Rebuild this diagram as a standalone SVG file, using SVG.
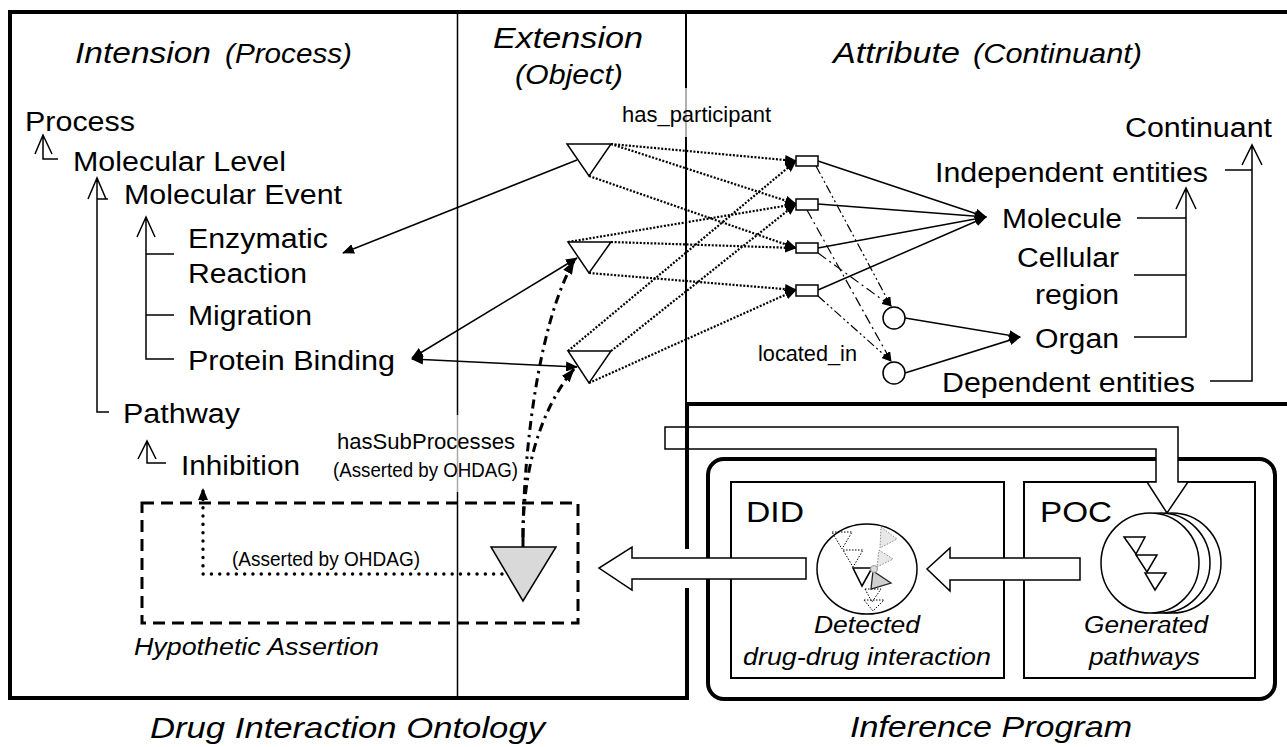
<svg xmlns="http://www.w3.org/2000/svg" width="1287" height="747" viewBox="0 0 1287 747">
<defs>
<style>
text{font-family:"Liberation Sans",Arial,Helvetica,sans-serif;fill:#000}
.lb{font-size:27px}
.tt{font-size:30px;font-style:italic}
.tp{font-size:27px;font-style:italic}
.sm{font-size:22px}
.as{font-size:21px}
.it{font-size:23px;font-style:italic}
.big{font-size:30px}
.frm{fill:none;stroke:#000;stroke-width:4}
.tree{fill:none;stroke:#000;stroke-width:1.5}
.sol{fill:none;stroke:#000;stroke-width:1.5}
.dot{fill:none;stroke:#000;stroke-width:2.2;stroke-dasharray:2 1.6}
.dd1{fill:none;stroke:#000;stroke-width:1.2;stroke-dasharray:9 3 2 3 2 3}
.dd2{fill:none;stroke:#000;stroke-width:1.2;stroke-dasharray:10 4 2 4}
.hd{fill:none;stroke:#000;stroke-width:3;stroke-dasharray:9 5 2.5 5}
.rd{fill:none;stroke:#000;stroke-width:3.4;stroke-linecap:round;stroke-dasharray:0.1 8.2}
.shape{fill:#fff;stroke:#000;stroke-width:1.5}
.hollow{fill:#fff;stroke:#000;stroke-width:1.5}
.box{fill:#fff;stroke:#000;stroke-width:2}
.dtri{fill:none;stroke:#000;stroke-width:1;stroke-dasharray:1.5 1.5}
.gtri{fill:#e8e8e8;stroke:#888;stroke-width:1;stroke-dasharray:1.5 1.5}
</style>
<marker id="a" viewBox="0 0 12 10" refX="11" refY="5" markerWidth="12" markerHeight="10" markerUnits="userSpaceOnUse" orient="auto-start-reverse"><path d="M0,0L12,5L0,10z" fill="#000"/></marker>
<marker id="as" viewBox="0 0 10 8" refX="9" refY="4" markerWidth="10" markerHeight="8" markerUnits="userSpaceOnUse" orient="auto"><path d="M0,0L10,4L0,8z" fill="#000"/></marker>
<marker id="ab" viewBox="0 0 14 10" refX="13" refY="5" markerWidth="14" markerHeight="10" markerUnits="userSpaceOnUse" orient="auto"><path d="M0,0L14,5L0,10z" fill="#000"/></marker>
</defs>
<rect width="1287" height="747" fill="#fff"/>

<g id="frames">
<line class="frm" x1="8" y1="12" x2="1287" y2="12"/>
<line class="frm" x1="10" y1="10" x2="10" y2="700"/>
<line class="frm" x1="8" y1="698" x2="689" y2="698"/>
<line x1="686" y1="12" x2="686" y2="88" stroke="#000" stroke-width="2"/>
<line x1="686" y1="88" x2="686" y2="137" stroke="#b0b0b0" stroke-width="2"/>
<line x1="686" y1="137" x2="686" y2="404" stroke="#000" stroke-width="2"/>
<line class="frm" x1="685" y1="404" x2="1287" y2="404"/>
<line x1="457.5" y1="12" x2="457.5" y2="415" stroke="#000" stroke-width="1.5"/>
<line x1="457.5" y1="415" x2="457.5" y2="492" stroke="#a8a8a8" stroke-width="1.5"/>
<line x1="457.5" y1="492" x2="457.5" y2="698" stroke="#000" stroke-width="1.5"/>
</g>

<g id="titles">
<text class="tt" x="75" y="63" textLength="136" lengthAdjust="spacingAndGlyphs">Intension</text>
<text class="tp" x="225" y="63" textLength="127" lengthAdjust="spacingAndGlyphs">(Process)</text>
<text class="tt" x="493" y="48" textLength="150" lengthAdjust="spacingAndGlyphs">Extension</text>
<text class="tp" x="515" y="84" textLength="108" lengthAdjust="spacingAndGlyphs">(Object)</text>
<text class="tt" x="833" y="63" textLength="127" lengthAdjust="spacingAndGlyphs">Attribute</text>
<text class="tp" x="973" y="63" textLength="169" lengthAdjust="spacingAndGlyphs">(Continuant)</text>
<text class="tt" x="150" y="738" textLength="395" lengthAdjust="spacingAndGlyphs">Drug Interaction Ontology</text>
<text class="tt" x="850" y="737" textLength="282" lengthAdjust="spacingAndGlyphs">Inference Program</text>
</g>

<g id="hypothetic-assertion">
<rect x="142" y="503" width="436" height="120" fill="none" stroke="#000" stroke-width="3" stroke-dasharray="12 7"/>
<text class="it" x="134" y="655" textLength="245" lengthAdjust="spacingAndGlyphs">Hypothetic Assertion</text>
</g>

<g id="inference-program">
<rect x="708" y="459" width="567" height="240" rx="16" ry="16" fill="none" stroke="#000" stroke-width="4"/>
</g>
<g id="did">
<rect class="box" x="731" y="482" width="273" height="196"/>
<text class="big" x="746" y="522" textLength="58" lengthAdjust="spacingAndGlyphs">DID</text>
<ellipse cx="867" cy="569" rx="50" ry="45" fill="#fff" stroke="#000" stroke-width="1.5"/>
<polygon class="dtri" points="832,532 852,532 842,549"/>
<polygon class="dtri" points="843,550 863,550 853,567"/>
<polygon class="gtri" points="881,527 897,539 880,548"/>
<polygon class="gtri" points="879,550 893,559 877,567"/>
<polygon class="dtri" points="865,589 881,589 872,602"/>
<polygon class="dtri" points="864,600 884,600 873,611"/>
<polygon points="853,568 872,568 862,586" fill="#fff" stroke="#000" stroke-width="1.6"/>
<polygon points="873,571 891,583 871,589" fill="#cfcfcf" stroke="#222" stroke-width="1.3"/>
<circle cx="874" cy="569" r="3.5" fill="#ddd" stroke="#999" stroke-width="1"/>
<text class="it" x="814" y="633" textLength="106" lengthAdjust="spacingAndGlyphs">Detected</text>
<text class="it" x="743" y="665" textLength="248" lengthAdjust="spacingAndGlyphs">drug-drug interaction</text>
</g>
<g id="poc">
<rect class="box" x="1024" y="482" width="231" height="196"/>
<text class="big" x="1040" y="522" textLength="72" lengthAdjust="spacingAndGlyphs">POC</text>
<ellipse cx="1172" cy="563" rx="49" ry="50" fill="#fff" stroke="#000" stroke-width="1.5"/>
<ellipse cx="1161" cy="563" rx="49" ry="50" fill="#fff" stroke="#000" stroke-width="1.5"/>
<ellipse cx="1150" cy="563" rx="49" ry="50" fill="#fff" stroke="#000" stroke-width="1.5"/>
<polygon class="shape" points="1124,537 1145,537 1136,554"/>
<polygon class="shape" points="1136,555 1157,555 1147,572"/>
<polygon class="shape" points="1145,573 1166,573 1155,590"/>
<text class="it" x="1084" y="633" textLength="124" lengthAdjust="spacingAndGlyphs">Generated</text>
<text class="it" x="1089" y="665" textLength="111" lengthAdjust="spacingAndGlyphs">pathways</text>
</g>

<g id="intension-nodes">
<g id="n-process"><text class="lb" x="25" y="131" textLength="110" lengthAdjust="spacingAndGlyphs">Process</text></g>
<g id="n-molecular-level"><text class="lb" x="73" y="171" textLength="213" lengthAdjust="spacingAndGlyphs">Molecular Level</text></g>
<g id="n-molecular-event"><text class="lb" x="124" y="204" textLength="218" lengthAdjust="spacingAndGlyphs">Molecular Event</text></g>
<g id="n-enzymatic"><text class="lb" x="188" y="248" textLength="140" lengthAdjust="spacingAndGlyphs">Enzymatic</text><text class="lb" x="188" y="283" textLength="119" lengthAdjust="spacingAndGlyphs">Reaction</text></g>
<g id="n-migration"><text class="lb" x="188" y="325" textLength="124" lengthAdjust="spacingAndGlyphs">Migration</text></g>
<g id="n-protein-binding"><text class="lb" x="188" y="370" textLength="207" lengthAdjust="spacingAndGlyphs">Protein Binding</text></g>
<g id="n-pathway"><text class="lb" x="123" y="423" textLength="117" lengthAdjust="spacingAndGlyphs">Pathway</text></g>
<g id="n-inhibition"><text class="lb" x="181" y="475" textLength="119" lengthAdjust="spacingAndGlyphs">Inhibition</text></g>
</g>

<g id="attribute-nodes">
<g id="n-continuant"><text class="lb" x="1125" y="137" textLength="147" lengthAdjust="spacingAndGlyphs">Continuant</text></g>
<g id="n-independent"><text class="lb" x="935" y="182" textLength="273" lengthAdjust="spacingAndGlyphs">Independent entities</text></g>
<g id="n-molecule"><text class="lb" x="1002" y="228" textLength="120" lengthAdjust="spacingAndGlyphs">Molecule</text></g>
<g id="n-cellular"><text class="lb" x="1017" y="267" textLength="102" lengthAdjust="spacingAndGlyphs">Cellular</text><text class="lb" x="1035" y="304" textLength="84" lengthAdjust="spacingAndGlyphs">region</text></g>
<g id="n-organ"><text class="lb" x="1035" y="348" textLength="84" lengthAdjust="spacingAndGlyphs">Organ</text></g>
<g id="n-dependent"><text class="lb" x="942" y="392" textLength="253" lengthAdjust="spacingAndGlyphs">Dependent entities</text></g>
</g>

<g id="connectors">
<path class="tree" d="M43,135V159H58M35,154L43,135L52,154"/>
<path class="tree" d="M97,178V412H109M97,199H108M88,199L97,178L106,199"/>
<path class="tree" d="M146,217V359H174M146,254H174M146,315H174M137,237L146,217L155,237"/>
<path class="tree" d="M147,441V463H166M138,459L147,441L156,459"/>
<path class="tree" d="M1252,145V381H1210M1225,170H1252M1242,165L1252,145L1262,165"/>
<path class="tree" d="M1186,188V337H1134M1137,218H1186M1134,275H1186M1176,209L1186,188L1196,209"/>
<path class="dot" marker-end="url(#a)" d="M611,144L796,161"/>
<path class="dot" marker-end="url(#a)" d="M611,144L796,204"/>
<path class="dot" marker-end="url(#a)" d="M589,176L796,248"/>
<path class="dot" marker-end="url(#a)" d="M568,242L796,204"/>
<path class="dot" marker-end="url(#a)" d="M611,242L796,248"/>
<path class="dot" marker-end="url(#a)" d="M589,273L796,290"/>
<path class="dot" marker-end="url(#a)" d="M568,351L796,161"/>
<path class="dot" marker-end="url(#a)" d="M611,351L796,204"/>
<path class="dot" marker-end="url(#a)" d="M589,383L796,290"/>
<path class="sol" marker-end="url(#a)" d="M818,161L986,217"/>
<path class="sol" marker-end="url(#a)" d="M818,204L986,217"/>
<path class="sol" marker-end="url(#a)" d="M818,248L986,217"/>
<path class="sol" marker-end="url(#a)" d="M818,290L986,217"/>
<path class="dd1" marker-end="url(#as)" d="M816,166L891,306"/>
<path class="dd2" marker-end="url(#as)" d="M807,210L891,361"/>
<path class="dd2" marker-end="url(#as)" d="M818,253L891,306"/>
<path class="dd1" marker-end="url(#as)" d="M818,296L891,361"/>
<path class="sol" marker-end="url(#a)" d="M905,318L1020,337"/>
<path class="sol" marker-end="url(#a)" d="M905,373L1020,337"/>
<path class="sol" marker-end="url(#a)" d="M577,160L343,253"/>
<path class="sol" marker-start="url(#a)" marker-end="url(#a)" d="M412,358L577,258"/>
<path class="sol" marker-start="url(#a)" marker-end="url(#a)" d="M412,359L577,367"/>
<path d="M523,547V537" stroke="#000" stroke-width="3" fill="none"/>
<path class="hd" marker-end="url(#ab)" d="M523,537C523,470 535,330 574,261"/>
<path class="hd" marker-end="url(#ab)" d="M523,537C523,470 540,410 574,369"/>
<path class="rd" marker-end="url(#a)" d="M502,574H203V489"/>
</g>

<g id="extension-nodes">
<g id="t1"><polygon class="shape" points="567,144 611,144 589,176"/></g>
<g id="t2"><polygon class="shape" points="568,242 611,242 589,273"/></g>
<g id="t3"><polygon class="shape" points="568,351 611,351 589,383"/></g>
<g id="t-hyp"><polygon points="491,547 556,547 523,601" fill="#d9d9d9" stroke="#000" stroke-width="1.5"/></g>
<g id="r1"><rect class="shape" x="796" y="156" width="22" height="10"/></g>
<g id="r2"><rect class="shape" x="796" y="199" width="22" height="11"/></g>
<g id="r3"><rect class="shape" x="796" y="243" width="22" height="10"/></g>
<g id="r4"><rect class="shape" x="796" y="285" width="22" height="11"/></g>
<g id="c1"><circle class="shape" cx="894" cy="318" r="11"/></g>
<g id="c2"><circle class="shape" cx="894" cy="373" r="11"/></g>
</g>

<g id="edge-labels">
<text class="sm" x="622" y="122" textLength="149" lengthAdjust="spacingAndGlyphs">has_participant</text>
<text class="sm" x="758" y="361" textLength="99" lengthAdjust="spacingAndGlyphs">located_in</text>
<text class="sm" x="337" y="449" textLength="178" lengthAdjust="spacingAndGlyphs">hasSubProcesses</text>
<text class="as" x="333" y="477" textLength="185" lengthAdjust="spacingAndGlyphs">(Asserted by OHDAG)</text>
<text class="as" x="232" y="566" textLength="188" lengthAdjust="spacingAndGlyphs">(Asserted by OHDAG)</text>
</g>

<g id="flow-arrows">
<polygon class="hollow" points="665,427 1178,427 1178,482 1188,482 1167,513 1147,482 1156,482 1156,449 665,449"/>
<polygon class="hollow" points="1080,558 950,558 950,548 927,569 950,591 950,580 1080,580"/>
<polygon class="hollow" points="806,558 632,558 632,547 599,568 632,590 632,579 806,579"/>
</g>
<g id="frame-right">
<line class="frm" x1="687" y1="404" x2="687" y2="549"/>
<line class="frm" x1="687" y1="588" x2="687" y2="700"/>
</g>
</svg>
